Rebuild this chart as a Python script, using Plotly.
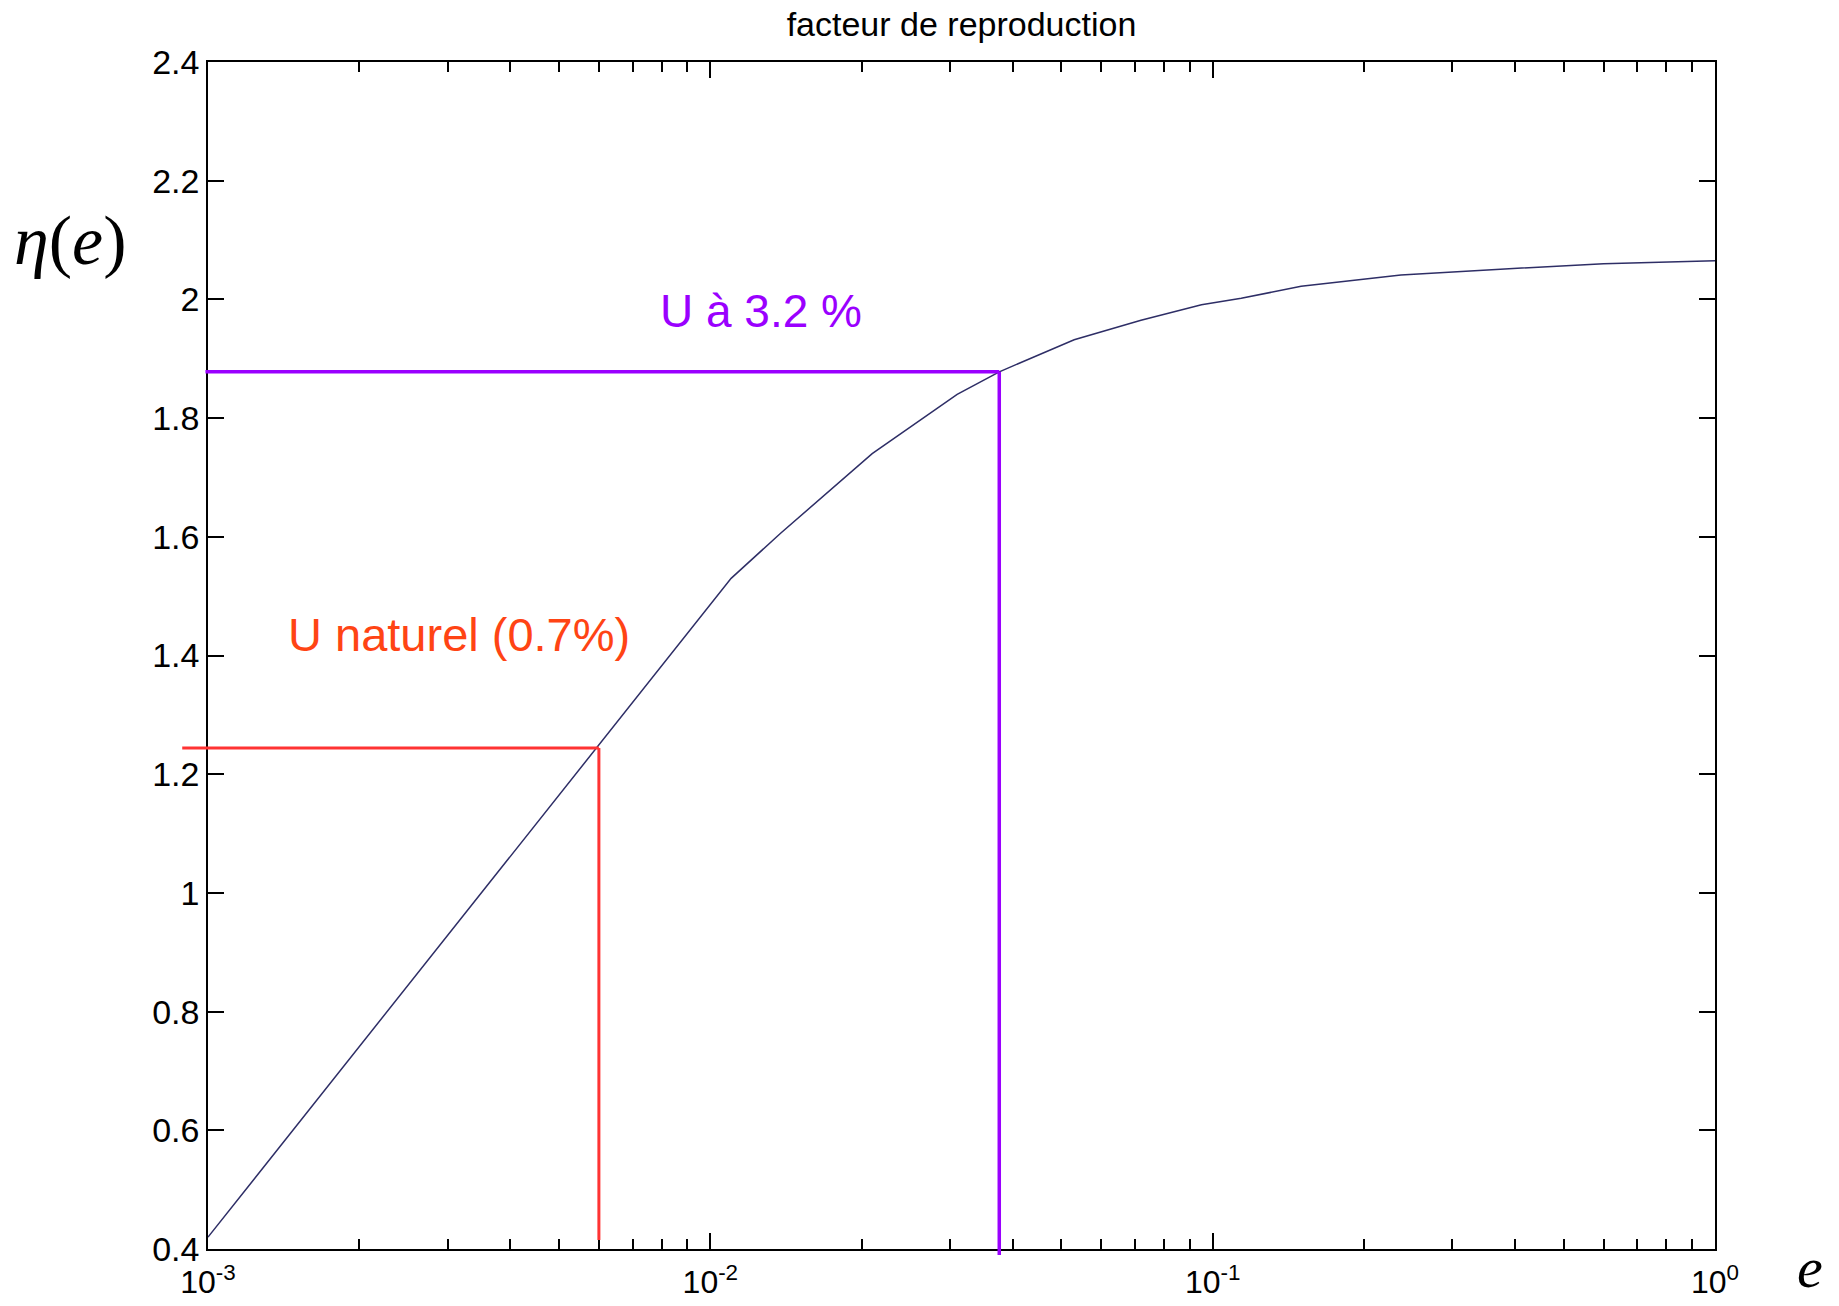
import numpy as np
import plotly.graph_objects as go

# Data
e_vals = [0.001, 0.011, 0.0138, 0.021, 0.031, 0.0376, 0.053, 0.072, 0.095,
          0.114, 0.150, 0.237, 0.374, 0.600, 1.0]
eta_vals = [0.42, 1.530, 1.606, 1.740, 1.840, 1.878, 1.932, 1.965, 1.991,
            2.002, 2.022, 2.041, 2.051, 2.060, 2.065]

natural_e, natural_eta = 0.006, 1.244
enriched_e, enriched_eta = 0.0376, 1.878

x_tick_vals = [0.001, 0.01, 0.1, 1]
x_tick_text = ["10<sup>-3</sup>", "10<sup>-2</sup>", "10<sup>-1</sup>", "10<sup>0</sup>"]
y_tick_vals = [0.4, 0.6, 0.8, 1.0, 1.2, 1.4, 1.6, 1.8, 2.0, 2.2, 2.4]
y_tick_text = ["0.4", "0.6", "0.8", "1", "1.2", "1.4", "1.6", "1.8", "2", "2.2", "2.4"]

title_text = "facteur de reproduction"
label_enriched = "U à 3.2 %"
label_natural = "U naturel (0.7%)"

RED_LINE = "#ff3333"
RED_TEXT = "#ff4414"
PURPLE = "#9a00ff"
CURVE = "#2e2e66"

LOG_MIN, LOG_MAX = -3, 0
Y_MIN, Y_MAX = 0.4, 2.4


def xpaper(e):
    return (np.log10(e) - LOG_MIN) / (LOG_MAX - LOG_MIN)


def ypaper(v):
    return (v - Y_MIN) / (Y_MAX - Y_MIN)


fig = go.Figure()
fig.add_trace(go.Scatter(x=e_vals, y=eta_vals, mode="lines",
                         line=dict(color=CURVE, width=1.5), showlegend=False))

shapes = [
    # natural uranium
    dict(type="line", xref="paper", yref="paper", x0=-0.0171, x1=xpaper(natural_e),
         y0=ypaper(natural_eta), y1=ypaper(natural_eta),
         line=dict(color=RED_LINE, width=3), layer="above"),
    dict(type="line", xref="paper", yref="paper", x0=xpaper(natural_e), x1=xpaper(natural_e),
         y0=ypaper(0.415), y1=ypaper(natural_eta),
         line=dict(color=RED_LINE, width=3), layer="above"),
    # enriched uranium
    dict(type="line", xref="paper", yref="paper", x0=-0.0017, x1=xpaper(enriched_e),
         y0=ypaper(enriched_eta), y1=ypaper(enriched_eta),
         line=dict(color=PURPLE, width=3.5), layer="above"),
    dict(type="line", xref="paper", yref="paper", x0=xpaper(enriched_e), x1=xpaper(enriched_e),
         y0=-0.005, y1=ypaper(enriched_eta),
         line=dict(color=PURPLE, width=3.5), layer="above"),
]

W, H = 1839, 1306
L, R, T, B = 208, 124, 62, 57
pw, ph = W - L - R, H - T - B

annotations = [
    dict(text=label_enriched, x=np.log10(0.0126), y=1.981, xref="x", yref="y",
         showarrow=False, font=dict(family="Liberation Sans, Arial", size=46, color=PURPLE),
         xanchor="center", yanchor="middle"),
    dict(text=label_natural, x=np.log10(0.00316), y=1.436, xref="x", yref="y",
         showarrow=False, font=dict(family="Liberation Sans, Arial", size=47, color=RED_TEXT),
         xanchor="center", yanchor="middle"),
    dict(text="<i>η</i>(<i>e</i>)", x=(70 - L) / pw, y=1 - (240 - T) / ph,
         xref="paper", yref="paper", showarrow=False,
         font=dict(family="Liberation Serif, DejaVu Serif", size=70, color="black"),
         xanchor="center", yanchor="middle"),
    dict(text="<i>e</i>", x=(1810 - L) / pw, y=1 - (1268 - T) / ph,
         xref="paper", yref="paper", showarrow=False,
         font=dict(family="Liberation Serif, DejaVu Serif", size=58, color="black"),
         xanchor="center", yanchor="middle"),
]

fig.update_layout(
    width=W, height=H,
    margin=dict(l=L, r=R, t=T, b=B, autoexpand=False),
    paper_bgcolor="white", plot_bgcolor="white",
    title=dict(text=title_text, x=(L + pw / 2) / W, xanchor="center",
               y=1 - 24 / H, yanchor="middle", yref="container",
               font=dict(family="Liberation Sans, Arial", size=34, color="black")),
    shapes=shapes,
    annotations=annotations,
    font=dict(family="Liberation Sans, Arial", color="black"),
)

fig.update_xaxes(type="log", range=[LOG_MIN, LOG_MAX], tickvals=x_tick_vals, ticktext=x_tick_text,
                 ticks="inside", ticklen=16, tickwidth=1.5, tickcolor="black",
                 showline=True, linecolor="black", linewidth=1.5, mirror="ticks",
                 showgrid=False, zeroline=False, ticklabelstandoff=4, automargin=False,
                 tickfont=dict(family="Liberation Sans, Arial", size=32, color="black"),
                 minor=dict(ticks="inside", ticklen=10, tickwidth=1.5, tickcolor="black",
                            dtick="D1", showgrid=False))
fig.update_yaxes(range=[Y_MIN, Y_MAX], tickvals=y_tick_vals, ticktext=y_tick_text,
                 ticks="inside", ticklen=16, tickwidth=1.5, tickcolor="black",
                 showline=True, linecolor="black", linewidth=1.5, mirror="ticks",
                 showgrid=False, zeroline=False, automargin=False,
                 tickfont=dict(family="Liberation Sans, Arial", size=34, color="black"))

fig.write_html("out.html")
